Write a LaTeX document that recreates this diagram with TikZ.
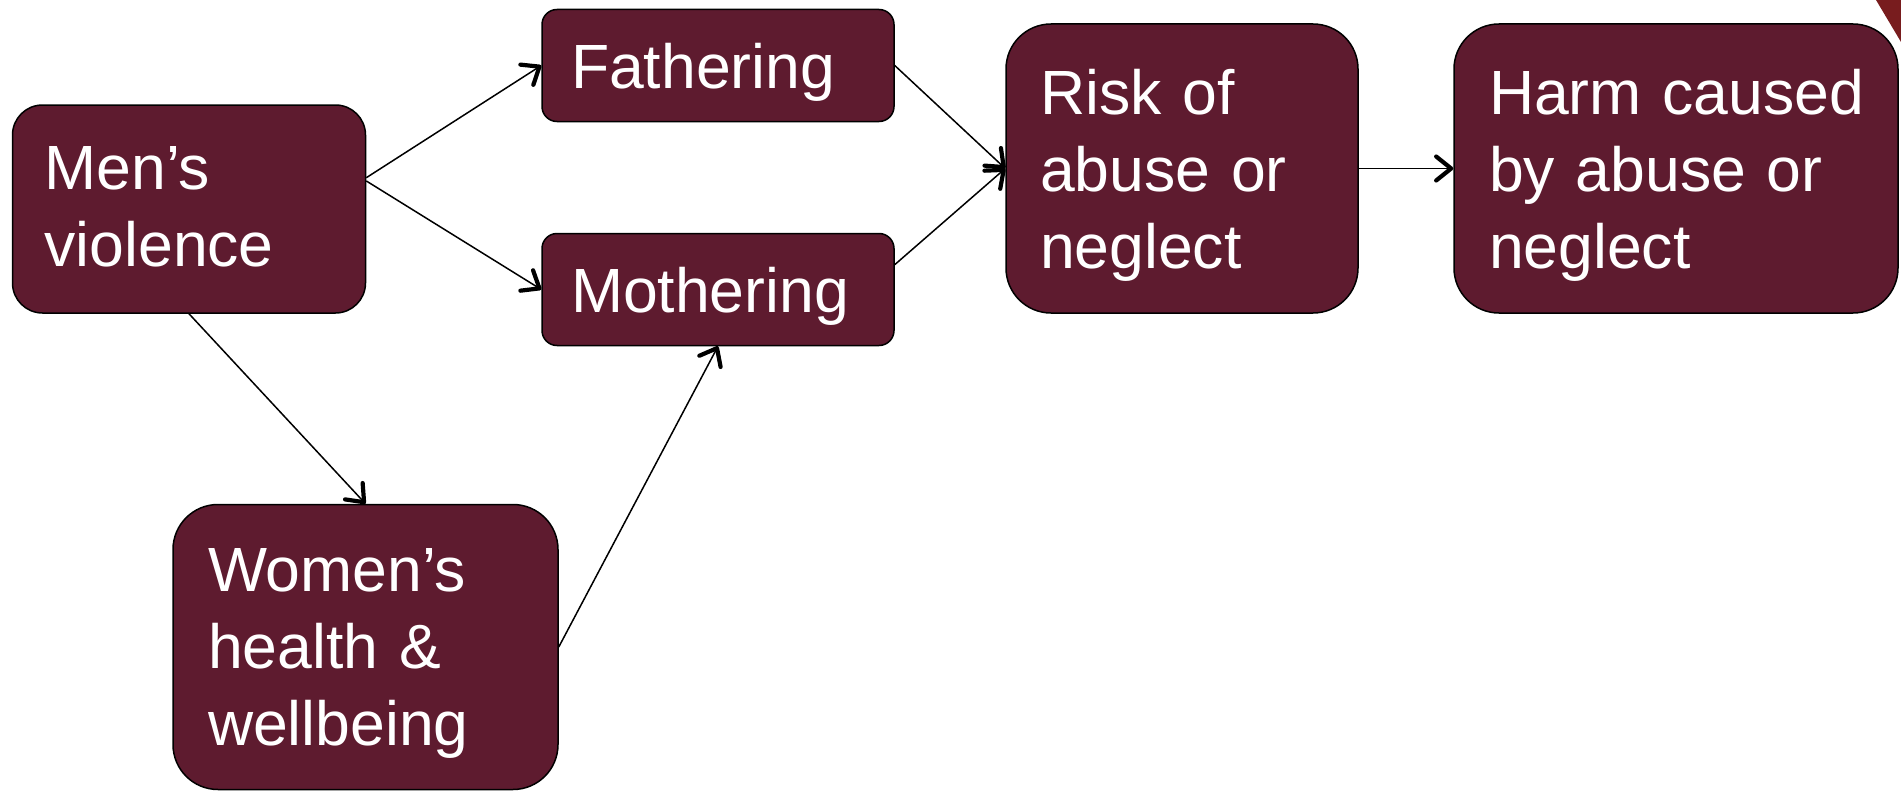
\documentclass[tikz,border=0pt]{standalone}
\usepackage{fontspec}
\setmainfont{Liberation Sans}
\usetikzlibrary{arrows.meta}
\definecolor{boxfill}{RGB}{94,27,47}
\definecolor{cornerred}{RGB}{120,28,30}
\newcommand\nodp[1]{\raisebox{0pt}[\height][0pt]{#1}}
\tikzset{
  box/.style={draw=black, line width=1.5pt, fill=boxfill, text=white,
    inner sep=0pt, align=left,
    font=\fontsize{62.5}{77}\selectfont},
  link/.style={line width=1.5pt, draw=black,
    -{Straight Barb[length=15pt,width=24pt,line width=4.2pt,round]}}
}
\begin{document}
\begin{tikzpicture}[x=1pt,y=-1pt]
\useasboundingbox (0,0) rectangle (1901,792);
\fill[cornerred] (1876,0) -- (1901,0) -- (1901,42) -- cycle;
% boxes
\node[box, rounded corners=30pt, minimum width=353pt, minimum height=208pt, text width=289pt] (men) at (189,209) {Men’s\\\nodp{violence}\rule[-5pt]{0pt}{0pt}};
\node[box, rounded corners=15pt, minimum width=352pt, minimum height=112pt, text width=294pt] (fath) at (718,65.5) {\nodp{Fathering}};
\node[box, rounded corners=15pt, minimum width=352pt, minimum height=112pt, text width=294pt] (moth) at (718,289.5) {\nodp{Mothering}};
\node[box, rounded corners=45pt, minimum width=352pt, minimum height=289pt, text width=284pt] (risk) at (1182,168.5) {Risk~of\\abuse~or\\\nodp{neglect}};
\node[box, rounded corners=45pt, minimum width=444pt, minimum height=289pt, text width=374pt] (harm) at (1676,168.5) {Harm~caused\\by~abuse~or\\\nodp{neglect}};
\node[box, rounded corners=45pt, minimum width=385pt, minimum height=285pt, text width=315pt] (women) at (365.5,647) {Women’s\\health~\&\\\nodp{wellbeing}};
% connectors
\draw[link] (men.10.6) -- (fath.west);
\draw[link] (men.9) -- (moth.west);
\draw[link] (men.south) -- (women.north);
\draw[link] (women.east) -- (moth.south);
\draw[link] (fath.east) -- (risk.west);
\draw[link] (moth.8.9) -- (risk.west);
\draw[link] (risk.east) -- (harm.west);
\end{tikzpicture}
\end{document}
